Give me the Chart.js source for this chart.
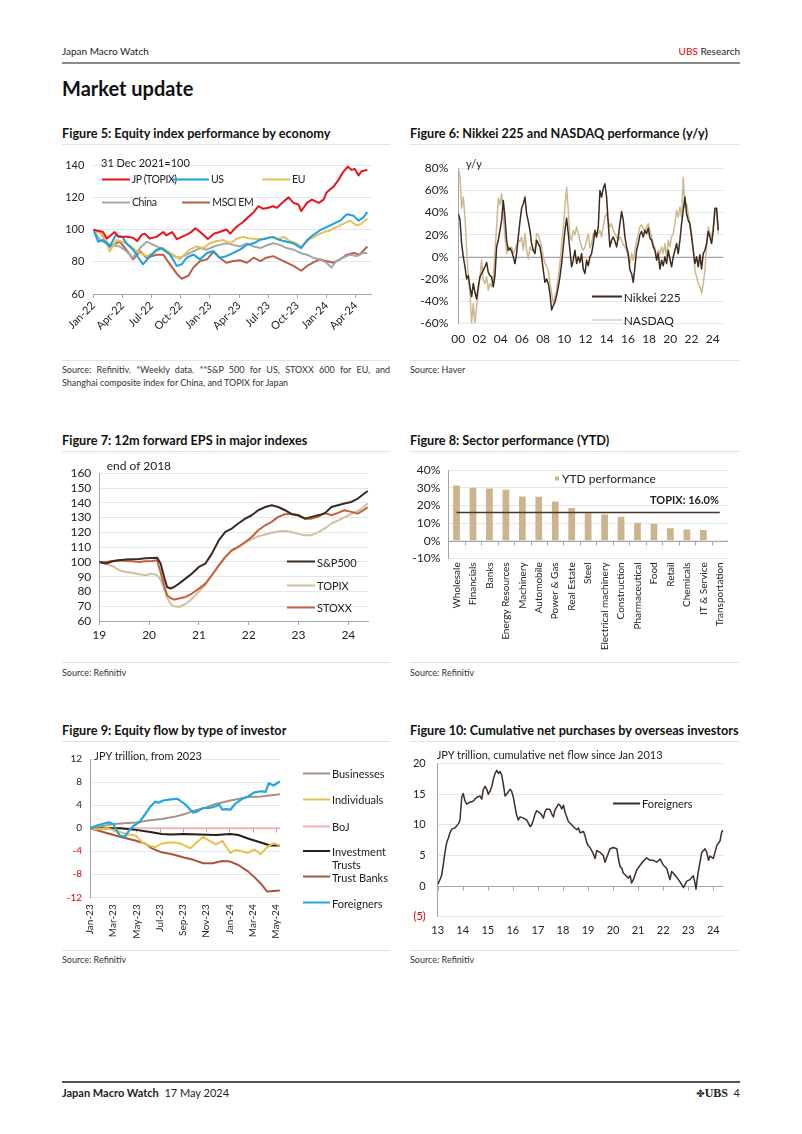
<!DOCTYPE html>
<html><head><meta charset="utf-8">
<script src="https://cdn.jsdelivr.net/npm/chart.js@4.4.1/dist/chart.umd.min.js"></script>
<style>
html,body{margin:0;padding:0;background:#fff;}
body{width:802px;height:1134px;position:relative;overflow:hidden;font-family:Lato,'Open Sans',sans-serif;color:#222;}
.t{position:absolute;white-space:nowrap;}
.title{position:absolute;white-space:nowrap;font-weight:700;font-size:12.7px;line-height:14px;color:#111;}
.sep{position:absolute;height:1px;background:#e2e2e2;}
.src{position:absolute;font-size:9px;line-height:12px;color:#333;white-space:nowrap;}
canvas{position:absolute;}
.lg{position:absolute;white-space:nowrap;font-size:11px;line-height:13px;display:flex;align-items:center;transform:translateY(-50%);color:#222;z-index:2;}
.lg i{display:inline-block;height:2px;margin-right:2px;}
.note{position:absolute;white-space:nowrap;font-size:11px;line-height:13px;transform:translateY(-50%);color:#222;z-index:2;}
.f5 .lg{font-size:10.5px;letter-spacing:-0.4px;}
</style></head><body>

<div class="t" style="left:62px;top:45px;font-size:10px;line-height:12px;">Japan Macro Watch</div>
<div class="t" style="right:62px;top:45px;font-size:10px;line-height:12px;"><span style="color:#e60000">UBS</span> Research</div>
<div style="position:absolute;left:62px;top:62px;width:678px;height:2px;background:#8a8a8a;"></div>
<div class="t" style="left:62px;top:77px;font-size:20px;line-height:22px;font-weight:700;color:#111;">Market update</div>

<div class="title" style="left:62px;top:126px;">Figure 5: Equity index performance by economy</div>
<div class="title" style="left:410px;top:126px;">Figure 6: Nikkei 225 and NASDAQ performance (y/y)</div>
<div class="sep" style="left:62px;top:144px;width:328px;"></div>
<div class="sep" style="left:410px;top:144px;width:330px;"></div>
<div class="sep" style="left:62px;top:360px;width:328px;"></div>
<div class="sep" style="left:410px;top:360px;width:330px;"></div>
<div class="src" style="left:62px;top:364px;width:328px;text-align:justify;text-align-last:justify;white-space:normal;">Source: Refinitiv. *Weekly data. **S&amp;P 500 for US, STOXX 600 for EU, and</div>
<div class="src" style="left:62px;top:377px;">Shanghai composite index for China, and TOPIX for Japan</div>
<div class="src" style="left:410px;top:364px;">Source: Haver</div>

<div class="title" style="left:62px;top:433px;">Figure 7: 12m forward EPS in major indexes</div>
<div class="title" style="left:410px;top:433px;">Figure 8: Sector performance (YTD)</div>
<div class="sep" style="left:62px;top:451px;width:328px;"></div>
<div class="sep" style="left:410px;top:451px;width:330px;"></div>
<div class="sep" style="left:62px;top:662px;width:328px;"></div>
<div class="sep" style="left:410px;top:662px;width:330px;"></div>
<div class="src" style="left:62px;top:667px;">Source: Refinitiv</div>
<div class="src" style="left:410px;top:667px;">Source: Refinitiv</div>

<div class="title" style="left:62px;top:723px;">Figure 9: Equity flow by type of investor</div>
<div class="title" style="left:410px;top:723px;">Figure 10: Cumulative net purchases by overseas investors</div>
<div class="sep" style="left:62px;top:741px;width:328px;"></div>
<div class="sep" style="left:410px;top:741px;width:330px;"></div>
<div class="sep" style="left:62px;top:950px;width:328px;"></div>
<div class="sep" style="left:410px;top:950px;width:330px;"></div>
<div class="src" style="left:62px;top:954px;">Source: Refinitiv</div>
<div class="src" style="left:410px;top:954px;">Source: Refinitiv</div>

<div style="position:absolute;left:62px;top:1081px;width:678px;height:1.5px;background:#555;"></div>
<div class="t" style="left:62px;top:1086px;font-size:11px;line-height:14px;"><b>Japan Macro Watch</b>&nbsp;&nbsp;17 May 2024</div>
<div class="t" style="right:62px;top:1086px;font-size:11px;line-height:14px;"><span style="font-family:'DejaVu Sans';font-size:10px;">✤</span><b style="font-family:'Liberation Serif';font-size:12px;">UBS</b>&nbsp;&nbsp;4</div>

<canvas id="c5"></canvas>
<canvas id="c6"></canvas>
<canvas id="c7"></canvas>
<canvas id="c8"></canvas>
<canvas id="c9"></canvas>
<canvas id="c10"></canvas>

<!-- Figure 5 annotations / legend -->
<div class="f5">
<div class="note" style="left:101px;top:162px;">31 Dec 2021=100</div>
<div class="lg" style="left:101.7px;top:179.3px;"><i style="width:28px;background:#e8141c"></i>JP (TOPIX)</div>
<div class="lg" style="left:173.3px;top:179.3px;"><i style="width:35.7px;background:#1ba1e2"></i>US</div>
<div class="lg" style="left:261.7px;top:179.3px;"><i style="width:28.3px;background:#e6c05a"></i>EU</div>
<div class="lg" style="left:101.7px;top:202px;"><i style="width:28.3px;background:#a6a6a6"></i>China</div>
<div class="lg" style="left:181.7px;top:202px;"><i style="width:28.6px;background:#b5604a"></i>MSCI EM</div>
</div>

<!-- Figure 6 -->
<div class="note" style="left:466px;top:163px;">y/y</div>
<div class="lg" style="left:592.3px;top:296.7px;font-size:12px;"><i style="width:29.4px;height:1.5px;background:#3f2b1e"></i>Nikkei 225</div>
<div class="lg" style="left:592.3px;top:320px;font-size:12px;"><i style="width:29.4px;height:1.5px;background:#cdb98f"></i>NASDAQ</div>

<!-- Figure 7 -->
<div class="note" style="left:106.7px;top:465px;font-size:12px;">end of 2018</div>
<div class="lg" style="left:286.7px;top:561.7px;"><i style="width:28.3px;background:#3a2a21"></i>S&amp;P500</div>
<div class="lg" style="left:286.7px;top:585px;"><i style="width:28.3px;background:#d2c09d"></i>TOPIX</div>
<div class="lg" style="left:286.7px;top:607.3px;"><i style="width:28.3px;background:#c4623f"></i>STOXX</div>

<!-- Figure 8 -->
<div class="lg" style="left:555px;top:478.3px;font-size:12px;"><i style="width:4px;height:4px;background:#cbb58f;margin-right:3px"></i>YTD performance</div>
<div class="note" style="left:650px;top:499px;font-weight:700;">TOPIX: 16.0%</div>

<!-- Figure 9 -->
<div class="note" style="left:94.3px;top:755px;">JPY trillion, from 2023</div>
<div class="lg" style="left:303.3px;top:773.3px;"><i style="width:26.7px;background:#a8907e"></i>Businesses</div>
<div class="lg" style="left:303.3px;top:799.3px;"><i style="width:26.7px;background:#e6c24c"></i>Individuals</div>
<div class="lg" style="left:303.3px;top:826px;"><i style="width:26.7px;background:#f4b2b2"></i>BoJ</div>
<div class="lg" style="left:303.3px;top:857.5px;align-items:flex-start;"><i style="width:26.7px;background:#231f1c;margin-top:5.5px"></i><span>Investment<br>Trusts</span></div>
<div class="lg" style="left:303.3px;top:876.7px;"><i style="width:26.7px;background:#a8543a"></i>Trust Banks</div>
<div class="lg" style="left:303.3px;top:902.7px;"><i style="width:26.7px;background:#1ea7e1"></i>Foreigners</div>

<!-- Figure 10 -->
<div class="note" style="left:436.7px;top:754.3px;">JPY trillion, cumulative net flow since Jan 2013</div>
<div class="lg" style="left:613.3px;top:803.3px;"><i style="width:26.7px;height:1.5px;background:#3d2f28"></i>Foreigners</div>

<script>
// ---------------- DATA ----------------
// Figure 5: index, 31 Dec 2021 = 100; x = months since start of Jan-22
const f5Ticks = ['Jan-22','Apr-22','Jul-22','Oct-22','Jan-23','Apr-23','Jul-23','Oct-23','Jan-24','Apr-24'];
const f5JP = [[0,100],[1.0,98.7],[1.4,94.6],[2.2,98.6],[2.6,95.6],[3.4,95.6],[4.1,95],[4.5,93],[5.0,97],[5.3,97.6],[5.8,94.6],[6.5,95.6],[7.2,98.6],[7.5,96.6],[8.1,98.6],[8.6,94.2],[8.9,95],[9.6,97],[10.0,98.2],[10.5,101],[11.0,98.6],[11.8,94.2],[12.4,97.6],[13.0,98.6],[13.7,100.2],[14.1,97.6],[14.6,101],[14.9,102.7],[15.4,104.7],[15.9,107.7],[16.5,111],[17.0,114.7],[17.5,113.1],[18.0,113.7],[18.5,114.7],[18.9,113.7],[19.6,117.7],[20.1,120.2],[20.6,116.8],[21.1,115.8],[21.4,111.7],[22.0,116.8],[22.5,118.8],[23.2,116.8],[23.7,118.8],[24.0,123.2],[24.7,126.8],[25.2,130.8],[25.7,135.9],[26.2,139.3],[26.6,137.3],[26.9,138],[27.3,133.9],[27.6,136.5],[28.2,137.3]];
const f5US = [[0,100],[0.5,92.6],[1.0,93.6],[1.7,89.6],[2.3,96.6],[3.0,95.6],[3.4,91.6],[4.1,87.6],[5.1,78.5],[5.7,82.6],[6.5,87.6],[7.0,88.6],[7.9,84.5],[8.6,77.5],[9.1,78.5],[9.6,82.6],[10.3,84.5],[11.0,81.6],[11.7,85.6],[12.3,86.6],[13.0,82.6],[13.7,83.6],[14.4,85.6],[15.1,87.6],[15.8,90.6],[16.5,91.6],[17.1,93.6],[17.8,94.6],[18.5,95.6],[19.2,93.6],[19.9,92.6],[20.6,91.6],[21.4,88.6],[22.0,93.6],[22.6,96.6],[23.3,99.6],[24.0,101.7],[24.7,103.7],[25.4,105.7],[26.1,109.7],[26.8,108.7],[27.3,105.7],[27.8,107.7],[28.2,111]];
const f5EU = [[0,100],[1.0,97],[1.7,86.6],[2.4,93.6],[3.4,91.6],[4.5,86.6],[5.5,83.6],[6.5,86.6],[7.2,88.6],[8.2,84.5],[8.9,81.6],[9.9,87.6],[10.6,89.6],[11.3,88.6],[12.0,91.6],[12.7,93],[13.4,93.6],[14.1,91.6],[14.8,94.6],[15.4,95.6],[16.1,94.6],[16.8,94.2],[17.5,94.2],[18.2,95.6],[18.9,94.2],[19.6,95.6],[20.2,93],[20.9,91.6],[21.4,89.6],[22.3,94.2],[23.0,96.6],[23.7,98.6],[24.4,99.6],[25.0,101.7],[25.7,103.7],[26.4,105.7],[27.1,102.7],[27.6,103.7],[28.2,107]];
const f5China = [[0,100],[0.7,93.6],[1.7,90.6],[2.7,89.6],[3.4,86.6],[4.1,82.6],[4.8,88.6],[5.5,92.6],[6.2,90.6],[6.9,88.6],[7.5,86.6],[8.2,83.6],[8.9,82.6],[9.6,84.5],[10.3,86.6],[11.0,88.6],[11.7,87.6],[12.4,89.6],[13.0,90.6],[13.7,91.6],[14.4,90.6],[15.1,89.6],[15.8,91.6],[16.5,89.6],[17.2,88.6],[17.8,90.2],[18.5,91.6],[19.2,90.6],[19.9,88.6],[20.6,87.6],[21.3,85.6],[22.0,84.5],[22.6,82.6],[23.3,81.6],[24.0,79.5],[24.5,76.5],[25.0,80.5],[25.7,82.6],[26.4,84.5],[27.1,83.6],[27.8,85.6],[28.2,85.6]];
const f5EM = [[0,100],[0.7,98.6],[1.7,89.6],[2.7,92.6],[3.4,87.6],[4.1,81.6],[4.8,86.6],[5.5,82.6],[6.5,84.5],[7.2,84.5],[7.9,78.5],[8.6,72.5],[9.1,69.5],[9.8,71.5],[10.3,76.5],[11.0,80.5],[11.7,81.6],[12.4,86.6],[13.0,82.6],[13.7,79.5],[14.4,80.5],[15.1,81],[15.8,79.5],[16.5,82.6],[17.2,80.5],[17.8,82.6],[18.5,83.6],[19.2,81.6],[19.9,79.5],[20.6,77.5],[21.4,74.5],[22.0,77.5],[22.6,79.5],[23.3,81.6],[24.0,80.5],[24.7,79.5],[25.4,81.6],[26.1,84.5],[26.8,85.6],[27.4,84.5],[28.2,89.6]];

// Figure 6: y/y %, observations from 2000 at a fixed spacing (years)
const f6Ticks = ['00','02','04','06','08','10','12','14','16','18','20','22','24'];
const f6Start = 2000, f6Step = 0.1572;
const f6Nikkei = [39,34,12,0,-9,-20,-17,-27,-36,-24,-32,-38,-27,-18,-15,-12,-9,-5,-14,-17,-18,-27,-17,9,15,24,33,51,36,15,6,8,5,0,-6,3,18,32,44,48,54,39,32,24,12,6,3,15,12,9,0,-12,-23,-20,-24,-33,-48,-44,-41,-35,-27,-18,-6,9,24,35,21,6,-9,-3,6,-6,0,-5,3,-11,-15,-3,-8,0,3,12,24,18,27,60,54,62,66,54,30,9,15,18,14,9,18,30,41,33,18,9,3,-12,-15,-23,-9,6,12,20,23,18,24,21,26,17,15,9,6,-3,3,-11,-3,-8,0,-6,6,-2,-9,0,6,12,3,15,30,42,54,39,33,30,18,6,-6,0,-9,2,-11,3,6,12,23,18,12,24,44,44,24];
const f6Nasdaq = [80,72,44,54,36,6,-18,-33,-60,-42,-60,-45,-30,-18,-3,-21,-24,-18,-30,-24,-27,-21,6,27,53,47,57,39,18,3,9,6,9,3,6,11,15,14,18,6,21,6,-2,9,6,6,6,21,20,15,9,0,-6,-8,-12,-24,-33,-42,-36,-30,-18,-6,12,27,45,63,42,18,15,24,20,27,21,15,9,6,9,15,21,8,12,21,18,21,21,24,18,27,36,39,33,27,30,24,21,18,15,18,15,11,9,6,0,-6,3,-3,6,15,21,27,29,26,23,27,30,24,18,12,8,0,6,3,9,3,12,0,15,9,18,21,30,42,36,45,36,72,45,48,39,27,21,6,-12,-18,-24,-27,-33,-24,-12,9,27,21,18,27,39,42,21];

// Figure 7: 12m forward EPS, end of 2018 = 100
const f7Years = [2019.00,2019.13,2019.27,2019.40,2019.53,2019.67,2019.80,2019.93,2020.06,2020.16,2020.23,2020.30,2020.36,2020.43,2020.50,2020.60,2020.73,2020.86,2021.00,2021.13,2021.26,2021.40,2021.53,2021.66,2021.79,2021.93,2022.06,2022.19,2022.33,2022.46,2022.59,2022.73,2022.86,2022.99,2023.13,2023.26,2023.39,2023.52,2023.66,2023.79,2023.92,2024.06,2024.19,2024.32,2024.39];
const f7SP = [100,98.9,100.5,101.1,101.6,101.8,102,102.5,102.7,102.9,99,90,83,82,83,85.3,88.7,92.1,96.6,98.9,105.6,114.7,120.3,122.6,126,129.3,131.6,135,137.2,138.4,137.2,135,132.3,131.6,129.3,130.5,131.6,132.7,137.2,138.4,139.5,140.6,142.9,146.3,148];
const f7Topix = [100,98.9,97.1,94.4,93.2,92.6,91.6,91,92.1,91,88,82,76,71.5,70,69.5,71.5,75,80,84.5,91,97.7,103.4,107.5,110,113,115.5,117.3,118.6,119.7,120.6,121,120.3,119,118,118.1,120,122.5,126,128,130.2,132.5,134.5,137.5,139.5];
const f7Stoxx = [100,100,100.7,101.1,100.7,100.5,100,100.5,100.7,101.1,93,84,77.5,75.5,74.5,75.2,76.3,78.6,81.9,85.3,91,97.7,103.4,107.9,110.2,113.5,116.9,121.4,124.8,127.1,130.5,132.3,132.7,131.6,129.3,129.3,130.5,133.2,131.6,133.2,135,133.9,132.7,135.4,137];
const f7Ticks = ['19','20','21','22','23','24'];

// Figure 8: sector YTD performance (%)
const f8Cats = ['Wholesale','Financials','Banks','Energy Resources','Machinery','Automobile','Power & Gas','Real Estate','Steel','Electrical machinery','Construction','Pharmaceutical','Food','Retail','Chemicals','IT & Service','Transportation'];
const f8Vals = [31.3,30,29.6,28.9,25.1,24.9,22.2,18.5,15.5,14.9,13.6,10.2,9.6,7.1,6.4,6,-0.9];
const f8Topix = 16.0;

// Figure 9: JPY trillion cumulative from 2023; x = months since start of Jan-23
const f9Ticks = ['Jan-23','Mar-23','May-23','Jul-23','Sep-23','Nov-23','Jan-24','Mar-24','May-24'];
const f9Business = [[0,0],[2.0,0.7],[3.95,1.0],[5.3,1.4],[6.2,1.6],[7.3,2.0],[8.1,2.4],[8.9,3.0],[10.0,3.6],[10.8,4.2],[12.1,4.8],[13.6,5.4],[14.7,5.5],[16.35,5.9]];
const f9Indiv = [[0,0],[0.65,-0.2],[1.47,0],[2.3,-0.5],[3.13,-1],[3.95,-1.3],[4.5,-2.5],[5.06,-3],[5.61,-3.3],[6.16,-2.7],[6.71,-2.5],[7.26,-2.5],[7.81,-2.7],[8.36,-3.2],[8.64,-3.5],[9.19,-2.5],[9.74,-1.5],[10.29,-2.2],[10.84,-2.8],[11.39,-2.2],[12.08,-4.3],[12.49,-3.8],[13.04,-4],[13.6,-4.3],[14.15,-3.7],[14.7,-4.5],[15.25,-3.3],[15.8,-2.6],[16.35,-3.0]];
const f9BoJ = [[0,0],[16.35,0]];
const f9InvTrust = [[0,0],[1.2,0],[2.58,0],[3.95,-0.3],[5.33,-0.7],[6.16,-1],[6.98,-1.1],[8.09,-1],[9.46,-1.1],[10.84,-1.2],[12.08,-1],[12.77,-1.2],[13.6,-1.8],[14.7,-2.5],[15.52,-3],[16.35,-3]];
const f9TrustBank = [[0,0],[1.2,-0.7],[2.58,-1.5],[3.95,-2.2],[4.78,-2.7],[5.33,-3.5],[6.16,-4.2],[6.98,-4.5],[8.09,-5.1],[8.91,-5.5],[9.74,-6.1],[10.56,-6.1],[11.39,-5.7],[12.08,-5.8],[12.77,-6.4],[13.6,-7.5],[14.15,-8.5],[14.7,-9.6],[15.25,-11],[15.8,-10.9],[16.35,-10.8]];
const f9Foreign = [[0,0],[0.65,0.5],[1.2,0.8],[1.61,1],[2.02,0.7],[2.3,-0.5],[2.58,-1.3],[2.99,-1.5],[3.4,-0.3],[3.82,0.5],[4.23,1],[4.78,2.5],[5.19,3.7],[5.61,4.6],[5.88,4.4],[6.3,4.8],[6.98,5],[7.53,5.1],[7.81,4.7],[8.09,4.3],[8.36,3.8],[8.64,3.2],[8.91,2.7],[9.33,3],[9.74,3.5],[10.29,3.5],[10.84,3.8],[11.12,4.1],[11.39,3.2],[11.67,3.3],[12.08,3.2],[12.49,4.2],[13.04,5],[13.6,5.5],[14.15,6.2],[14.7,6.4],[15.11,6.3],[15.39,7.8],[15.8,7.4],[16.35,8.1]];

// Figure 10: cumulative net flow since Jan 2013, JPY trillion
const f10Ticks = ['13','14','15','16','17','18','19','20','21','22','23','24'];
const f10Foreign = [[2013.00,0.26],[2013.09,1.05],[2013.16,1.8],[2013.23,3.7],[2013.29,5.5],[2013.36,7.1],[2013.43,7.9],[2013.49,8.7],[2013.56,9.3],[2013.69,9.5],[2013.83,10.2],[2013.89,10.8],[2013.96,14.5],[2014.02,15.1],[2014.09,13.9],[2014.16,13.4],[2014.29,13.7],[2014.42,13.9],[2014.56,14.5],[2014.69,14.7],[2014.76,14.2],[2014.82,15.8],[2014.89,16.3],[2014.96,15.8],[2015.02,15],[2015.09,15.5],[2015.16,16.3],[2015.22,17.4],[2015.29,18.4],[2015.36,18.9],[2015.42,18.4],[2015.49,18.7],[2015.55,18.2],[2015.62,16.6],[2015.69,14.7],[2015.75,15],[2015.89,15.8],[2015.95,15.5],[2016.02,14.5],[2016.09,12.9],[2016.15,11.6],[2016.22,10.8],[2016.29,11.3],[2016.42,11.1],[2016.55,10.8],[2016.69,9.7],[2016.75,10],[2016.82,10.8],[2016.89,11.8],[2016.95,12.3],[2017.09,11.9],[2017.15,11.6],[2017.22,11.1],[2017.28,12.1],[2017.35,12.6],[2017.48,12.5],[2017.55,11.8],[2017.62,11.3],[2017.68,12.4],[2017.82,13.4],[2017.88,13.2],[2017.95,12.6],[2018.02,13.2],[2018.08,12.1],[2018.15,11.3],[2018.22,10.5],[2018.28,10.3],[2018.42,9.7],[2018.55,9.2],[2018.62,9.5],[2018.68,8.7],[2018.82,8.9],[2018.88,8.2],[2018.95,7.1],[2019.01,6.6],[2019.08,6.3],[2019.21,5.3],[2019.28,4.5],[2019.35,5.8],[2019.48,5.5],[2019.61,5.0],[2019.68,3.9],[2019.75,4.7],[2019.88,6.1],[2020.01,6.3],[2020.15,6.1],[2020.21,4.5],[2020.28,3.2],[2020.35,2.9],[2020.41,2.1],[2020.54,1.6],[2020.61,1.3],[2020.68,1.7],[2020.74,0.5],[2020.81,1.05],[2020.94,2.6],[2021.08,3.4],[2021.21,4.1],[2021.34,4.6],[2021.48,4.2],[2021.61,4.2],[2021.74,3.9],[2021.88,4.4],[2022.01,3.4],[2022.14,2.9],[2022.27,1.05],[2022.34,2.4],[2022.47,1.8],[2022.61,1.05],[2022.74,0.26],[2022.81,-0.26],[2022.94,0.8],[2023.07,1.05],[2023.20,1.7],[2023.27,0.5],[2023.31,-0.5],[2023.38,1.8],[2023.47,3.9],[2023.54,5.5],[2023.67,6.1],[2023.74,5.5],[2023.81,4.2],[2023.87,4.9],[2024.00,4.5],[2024.07,5.5],[2024.14,6.6],[2024.27,7.4],[2024.34,8.9],[2024.40,9.1]];

// ---------------- RENDERING ----------------
Chart.defaults.font.family = "Lato, 'Open Sans', sans-serif";
Chart.defaults.font.size = 11;
Chart.defaults.color = '#222';
Chart.defaults.animation = false;
Chart.defaults.plugins.legend.display = false;
Chart.defaults.plugins.tooltip.enabled = false;
Chart.defaults.elements.point.radius = 0;
Chart.defaults.elements.line.tension = 0;

const GRID = '#e6e6e6', AXIS = '#a6a6a6';

function zeroAxis(opts) {
  return {
    id: 'zeroAxis',
    beforeDatasetsDraw(chart) {
      const {ctx, chartArea, scales} = chart;
      const x = scales.x, y = scales.y;
      const py = Math.round(y.getPixelForValue(0)) + 0.5;
      ctx.save();
      ctx.strokeStyle = opts.color || AXIS;
      ctx.lineWidth = 1;
      ctx.beginPath();
      ctx.moveTo(chartArea.left, py); ctx.lineTo(chartArea.right, py);
      if (opts.ticks) {
        let pos;
        if (opts.between) {
          const n = x.ticks.length;
          const w = (chartArea.right - chartArea.left) / n;
          pos = [];
          for (let i = 1; i < n; i++) pos.push(chartArea.left + i * w);
        } else {
          pos = x.ticks.map(t => x.getPixelForValue(t.value));
        }
        pos.forEach(p => { const q = Math.round(p) + 0.5; ctx.moveTo(q, py); ctx.lineTo(q, py + opts.ticks); });
      }
      ctx.stroke();
      ctx.restore();
    }
  };
}

function build(id, box, plot, cfg) {
  const cv = document.getElementById(id);
  cv.width = box.w; cv.height = box.h;
  cv.style.left = box.x + 'px'; cv.style.top = box.y + 'px';
  cv.style.width = box.w + 'px'; cv.style.height = box.h + 'px';
  const wy = plot.l - box.x, pt = plot.t - box.y, pr = box.x + box.w - plot.r, hx = box.y + box.h - plot.b;
  cfg.options = cfg.options || {};
  cfg.options.responsive = false;
  cfg.options.devicePixelRatio = 1;
  cfg.options.animation = false;
  cfg.options.events = [];
  cfg.options.layout = {autoPadding: false, padding: {left: 0, top: pt, right: pr, bottom: 0}};
  cfg.options.scales.y.afterFit = s => { s.width = wy; };
  cfg.options.scales.x.afterFit = s => { s.height = hx; };
  cfg.options.scales.y.ticks.autoSkip = false;
  return new Chart(cv, cfg);
}

function line(label, data, color, width) {
  return {label, data, borderColor: color, backgroundColor: color, borderWidth: width, pointRadius: 0, fill: false, borderJoinStyle: 'round'};
}

// Figure 5
build('c5', {x: 60, y: 150, w: 330, h: 205}, {l: 93.3, t: 161.5, r: 371.7, b: 294}, {
  type: 'line',
  data: {datasets: [
    line('JP (TOPIX)', f5JP, '#e8141c', 2),
    line('US', f5US, '#1ba1e2', 2),
    line('EU', f5EU, '#e6c05a', 2),
    line('China', f5China, '#a6a6a6', 2),
    line('MSCI EM', f5EM, '#b5604a', 2)
  ]},
  options: {scales: {
    x: {type: 'linear', min: 0, max: 28.65,
        border: {display: true, color: AXIS},
        grid: {drawOnChartArea: false, drawTicks: true, tickLength: 4, color: AXIS},
        ticks: {stepSize: 3, includeBounds: false, autoSkip: false, maxTicksLimit: 100, minRotation: 45, maxRotation: 45, padding: 1,
                font: {size: 11}, callback: (v, i) => f5Ticks[i]}},
    y: {min: 60, max: 140, border: {display: false},
        grid: {color: GRID, drawTicks: false},
        ticks: {stepSize: 20, padding: 9, font: {size: 11}}}
  }}
});

// Figure 6
build('c6', {x: 405, y: 150, w: 340, h: 205}, {l: 458.3, t: 168.3, r: 723.3, b: 323.3}, {
  type: 'line',
  data: {datasets: [
    line('Nikkei 225', f6Nikkei.map((v, i) => [f6Start + i * f6Step, v]), '#3f2b1e', 1.5),
    line('NASDAQ', f6Nasdaq.map((v, i) => [f6Start + i * f6Step, v]), '#cdb98f', 1.5)
  ]},
  options: {scales: {
    x: {type: 'linear', min: 2000, max: 2025,
        border: {display: false}, grid: {display: false, drawTicks: false},
        ticks: {stepSize: 2, includeBounds: false, autoSkip: false, maxTicksLimit: 100, maxRotation: 0, padding: 9,
                font: {size: 12}, callback: (v, i) => f6Ticks[i]}},
    y: {min: -60, max: 80, border: {display: true, color: AXIS},
        grid: {color: GRID, drawTicks: false},
        ticks: {stepSize: 20, padding: 10, font: {size: 12}, callback: v => v + '%'}}
  }},
  plugins: [zeroAxis({color: AXIS})]
});

// Figure 7
build('c7', {x: 55, y: 455, w: 335, h: 200}, {l: 99.3, t: 473.3, r: 368.3, b: 621}, {
  type: 'line',
  data: {datasets: [
    line('S&P500', f7Years.map((x, i) => [x, f7SP[i]]), '#3a2a21', 2),
    line('STOXX', f7Years.map((x, i) => [x, f7Stoxx[i]]), '#c4623f', 2),
    line('TOPIX', f7Years.map((x, i) => [x, f7Topix[i]]), '#d2c09d', 2)
  ]},
  options: {scales: {
    x: {type: 'linear', min: 2019, max: 2024.4,
        border: {display: true, color: AXIS},
        grid: {drawOnChartArea: false, drawTicks: true, tickLength: 4, color: AXIS},
        ticks: {stepSize: 1, includeBounds: false, autoSkip: false, maxTicksLimit: 100, maxRotation: 0, padding: 3,
                font: {size: 12}, callback: (v, i) => f7Ticks[i]}},
    y: {min: 60, max: 160, border: {display: true, color: AXIS},
        grid: {color: GRID, drawTicks: false},
        ticks: {stepSize: 10, padding: 8, font: {size: 12}, maxTicksLimit: 100}}
  }}
});

// Figure 8
build('c8', {x: 405, y: 455, w: 340, h: 205}, {l: 448.3, t: 466.7, r: 728, b: 558.3}, {
  type: 'bar',
  data: {labels: f8Cats, datasets: [
    {type: 'line', label: 'TOPIX', data: f8Cats.map(() => f8Topix), borderColor: '#4a3526', borderWidth: 1.5, pointRadius: 0, order: 0},
    {label: 'YTD performance', data: f8Vals, backgroundColor: '#cbb58f', categoryPercentage: 1, barPercentage: 0.41, order: 1}
  ]},
  options: {scales: {
    x: {border: {display: false}, grid: {display: false, drawTicks: false},
        ticks: {autoSkip: false, minRotation: 90, maxRotation: 90, padding: 4, font: {size: 10}}},
    y: {min: -10, max: 40, border: {display: true, color: AXIS},
        grid: {color: GRID, drawTicks: false},
        ticks: {stepSize: 10, padding: 8, font: {size: 12}, callback: v => v + '%'}}
  }},
  plugins: [zeroAxis({color: AXIS, ticks: 4, between: true})]
});

// Figure 9
build('c9', {x: 55, y: 745, w: 240, h: 205}, {l: 90, t: 754.3, r: 288.3, b: 897.3}, {
  type: 'line',
  data: {datasets: [
    line('Foreigners', f9Foreign, '#1ea7e1', 2.2),
    line('Businesses', f9Business, '#a8907e', 2),
    line('Individuals', f9Indiv, '#e6c24c', 2),
    line('Investment Trusts', f9InvTrust, '#231f1c', 2),
    line('Trust Banks', f9TrustBank, '#a8543a', 2),
    line('BoJ', f9BoJ, '#f4b2b2', 2)
  ]},
  options: {scales: {
    x: {type: 'linear', min: 0, max: 16.35,
        border: {display: false}, grid: {display: false, drawTicks: false},
        ticks: {stepSize: 2, includeBounds: false, autoSkip: false, maxTicksLimit: 100, minRotation: 90, maxRotation: 90, padding: 7,
                font: {size: 10}, callback: (v, i) => f9Ticks[i]}},
    y: {min: -12, max: 12, border: {display: true, color: AXIS},
        grid: {color: GRID, drawTicks: false},
        ticks: {stepSize: 4, padding: 8, font: {size: 10}, color: c => (c.tick && c.tick.value < 0) ? '#e60000' : '#222'}}
  }},
  plugins: [zeroAxis({color: AXIS, ticks: 4})]
});

// Figure 10
build('c10', {x: 405, y: 745, w: 340, h: 205}, {l: 437.7, t: 758.3, r: 723.3, b: 916.7}, {
  type: 'line',
  data: {datasets: [
    line('Foreigners', f10Foreign, '#3d2f28', 1.5)
  ]},
  options: {scales: {
    x: {type: 'linear', min: 2013, max: 2024.4,
        border: {display: false}, grid: {display: false, drawTicks: false},
        ticks: {stepSize: 1, includeBounds: false, autoSkip: false, maxTicksLimit: 100, maxRotation: 0, padding: 7,
                font: {size: 11}, callback: (v, i) => f10Ticks[i]}},
    y: {min: -5, max: 20, border: {display: true, color: AXIS},
        grid: {color: GRID, drawTicks: false},
        ticks: {stepSize: 5, padding: 12, font: {size: 11},
                color: c => (c.tick && c.tick.value < 0) ? '#e60000' : '#222',
                callback: v => v < 0 ? '(' + Math.abs(v) + ')' : String(v)}}
  }},
  plugins: [zeroAxis({color: AXIS, ticks: 4})]
});
</script>
</body></html>
